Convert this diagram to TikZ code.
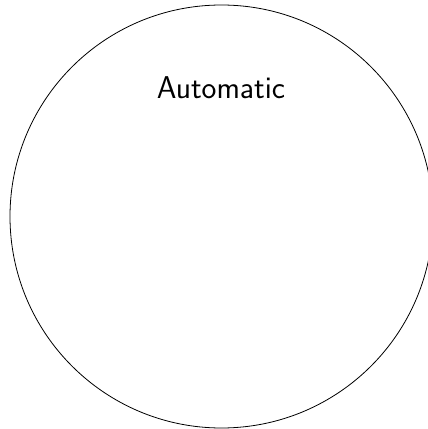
\documentclass[tikz,border=0pt]{standalone}
\begin{document}
\begin{tikzpicture}[x=1pt,y=1pt,
  ring/.style={draw=black,line width=0.8pt},
  lbl/.style={font=\sffamily\fontsize{31.5}{34}\selectfont,inner sep=0pt}]
\useasboundingbox (0,0) rectangle (428,429);
\clip (0,0) rectangle (428,429);
\node[ring,circle,minimum size=423pt,inner sep=0pt] (c) at (221.5,212.5) {};
\node[lbl] (t) at (221,341) {Automatic};
\end{tikzpicture}
\end{document}
